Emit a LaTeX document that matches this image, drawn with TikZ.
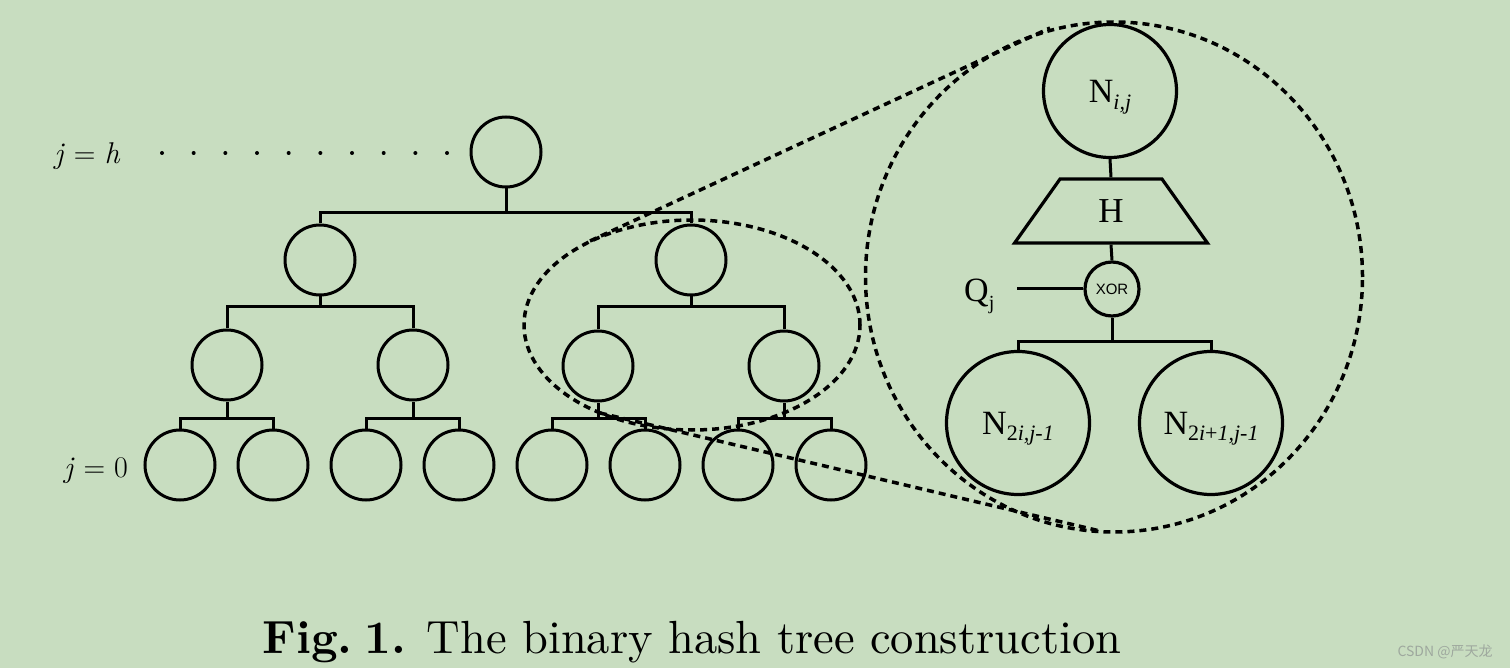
\documentclass[tikz,border=0pt]{standalone}
\usepackage{fontspec}
\newfontfamily\tms{Liberation Serif}
\newfontfamily\ars{Liberation Sans}
\newfontfamily\cjk{Noto Sans CJK SC}
\newfontfamily\capfont{lmroman10-regular.otf}[BoldFont=lmroman10-bold.otf]
\usetikzlibrary{shapes.geometric}
\definecolor{bg}{RGB}{200,221,192}
\definecolor{wmc}{RGB}{158,168,158}
\begin{document}
\begin{tikzpicture}[x=1pt,y=-1pt,
  tn/.style={circle,draw,line width=3pt,minimum size=70pt,inner sep=0pt},
  bign/.style={circle,draw,line width=3.2pt,inner sep=0pt},
  edge/.style={line width=3pt},
  zoomline/.style={line width=3.5pt,dash pattern=on 7pt off 5pt},
  lbl/.style={anchor=base,inner sep=0pt}]
\fill[bg] (0,0) rectangle (1510,668);
\useasboundingbox (0,0) rectangle (1510,668);
% tree
\node[tn] (r) at (506,152) {};
\node[tn] (a1) at (320,260) {};
\node[tn] (a2) at (691,260) {};
\node[tn] (b1) at (227,365) {};
\node[tn] (b2) at (413,365) {};
\node[tn] (b3) at (598,366) {};
\node[tn] (b4) at (784,366) {};
\node[tn] (c1) at (180,465) {};
\node[tn] (c2) at (273,465) {};
\node[tn] (c3) at (366,465) {};
\node[tn] (c4) at (459,465) {};
\node[tn] (c5) at (552,465) {};
\node[tn] (c6) at (645,465) {};
\node[tn] (c7) at (738,465) {};
\node[tn] (c8) at (831,465) {};
\coordinate (y0) at (0,213);
\coordinate (y1) at (0,307);
\coordinate (y2) at (0,418);
\draw[edge] (r.south) -- (r.south |- y0);
\draw[edge] (a1.north) |- (a2.north |- y0) -- (a2.north);
\draw[edge] (a1.south) -- (a1.south |- y1);
\draw[edge] (b1.north) |- (b2.north |- y1) -- (b2.north);
\draw[edge] (a2.south) -- (a2.south |- y1);
\draw[edge] (b3.north) |- (b4.north |- y1) -- (b4.north);
\draw[edge] (b1.south) -- (b1.south |- y2);
\draw[edge] (c1.north) |- (c2.north |- y2) -- (c2.north);
\draw[edge] (b2.south) -- (b2.south |- y2);
\draw[edge] (c3.north) |- (c4.north |- y2) -- (c4.north);
\draw[edge] (b3.south) -- (b3.south |- y2);
\draw[edge] (c5.north) |- (c6.north |- y2) -- (c6.north);
\draw[edge] (b4.south) -- (b4.south |- y2);
\draw[edge] (c7.north) |- (c8.north |- y2) -- (c8.north);
% level labels
\node[lbl] (jh) at (87,164) {\fontsize{30}{36}\selectfont\itshape j \upshape= \itshape h};
\node[lbl] (j0) at (96,477) {\fontsize{30}{36}\selectfont\itshape j \upshape= 0};
\foreach \i in {0,...,9} \fill (162+\i*31.67,153) circle (2pt);
% zoom marks
\node[ellipse,draw,zoomline,minimum width=336pt,minimum height=210pt,inner sep=0pt] (zs) at (692,325) {};
\node[ellipse,draw,zoomline,minimum width=497pt,minimum height=510pt,inner sep=0pt] (zb) at (1114,277) {};
\coordinate (t1) at (590,241);
\coordinate (t2) at (1050,28);
\coordinate (u1) at (600,413);
\coordinate (u2) at (1100,531);
\draw[zoomline] (t1) -- (t2);
\draw[zoomline] (u1) -- (u2);
% detail
\node[bign,minimum size=133pt] (nij) at (1110,91) {\tms\fontsize{34}{36}\selectfont N\raisebox{-7pt}[0pt][0pt]{\fontsize{22}{24}\selectfont\itshape i,j}};
\node[trapezium,draw,line width=3.2pt,trapezium angle=63.8,minimum width=193pt,minimum height=64pt,trapezium stretches=true,inner sep=0pt] (H) at (1111,211) {\tms\fontsize{35}{36}\selectfont H};
\node[bign,minimum size=54pt] (xor) at (1112,289) {\ars\fontsize{15}{16}\selectfont XOR};
\node[anchor=base west,inner sep=0pt] (Q) at (964,302) {\tms\fontsize{34}{36}\selectfont Q\raisebox{-7pt}[0pt][0pt]{\fontsize{20}{22}\selectfont j}};
\coordinate (qe) at (1017,289);
\node[bign,minimum size=143pt] (nl) at (1018,423) {\tms\fontsize{34}{36}\selectfont N\raisebox{-6pt}[0pt][0pt]{\fontsize{22}{24}\selectfont 2\itshape i,j-1}};
\node[bign,minimum size=143pt] (nr) at (1211,423) {\tms\fontsize{34}{36}\selectfont N\raisebox{-6pt}[0pt][0pt]{\fontsize{22}{24}\selectfont 2\itshape i\upshape+\itshape 1,j-1}};
\coordinate (y3) at (0,341);
\draw[edge] (nij.south) -- (H.north);
\draw[edge] (H.south) -- (xor.north);
\draw[edge] (qe) -- (xor.west);
\draw[edge] (xor.south) -- (xor.south |- y3);
\draw[edge] (nl.north) |- (nr.north |- y3) -- (nr.north);
% caption
\node[lbl] (cap) at (692,653) {\capfont\fontsize{46.5}{50}\selectfont\textbf{Fig.\hspace{0.25em}1.} The binary hash tree construction};
\node[lbl,text=wmc] (wm) at (1445,656) {\cjk\fontsize{14}{16}\selectfont CSDN @严天龙};
\end{tikzpicture}
\end{document}
